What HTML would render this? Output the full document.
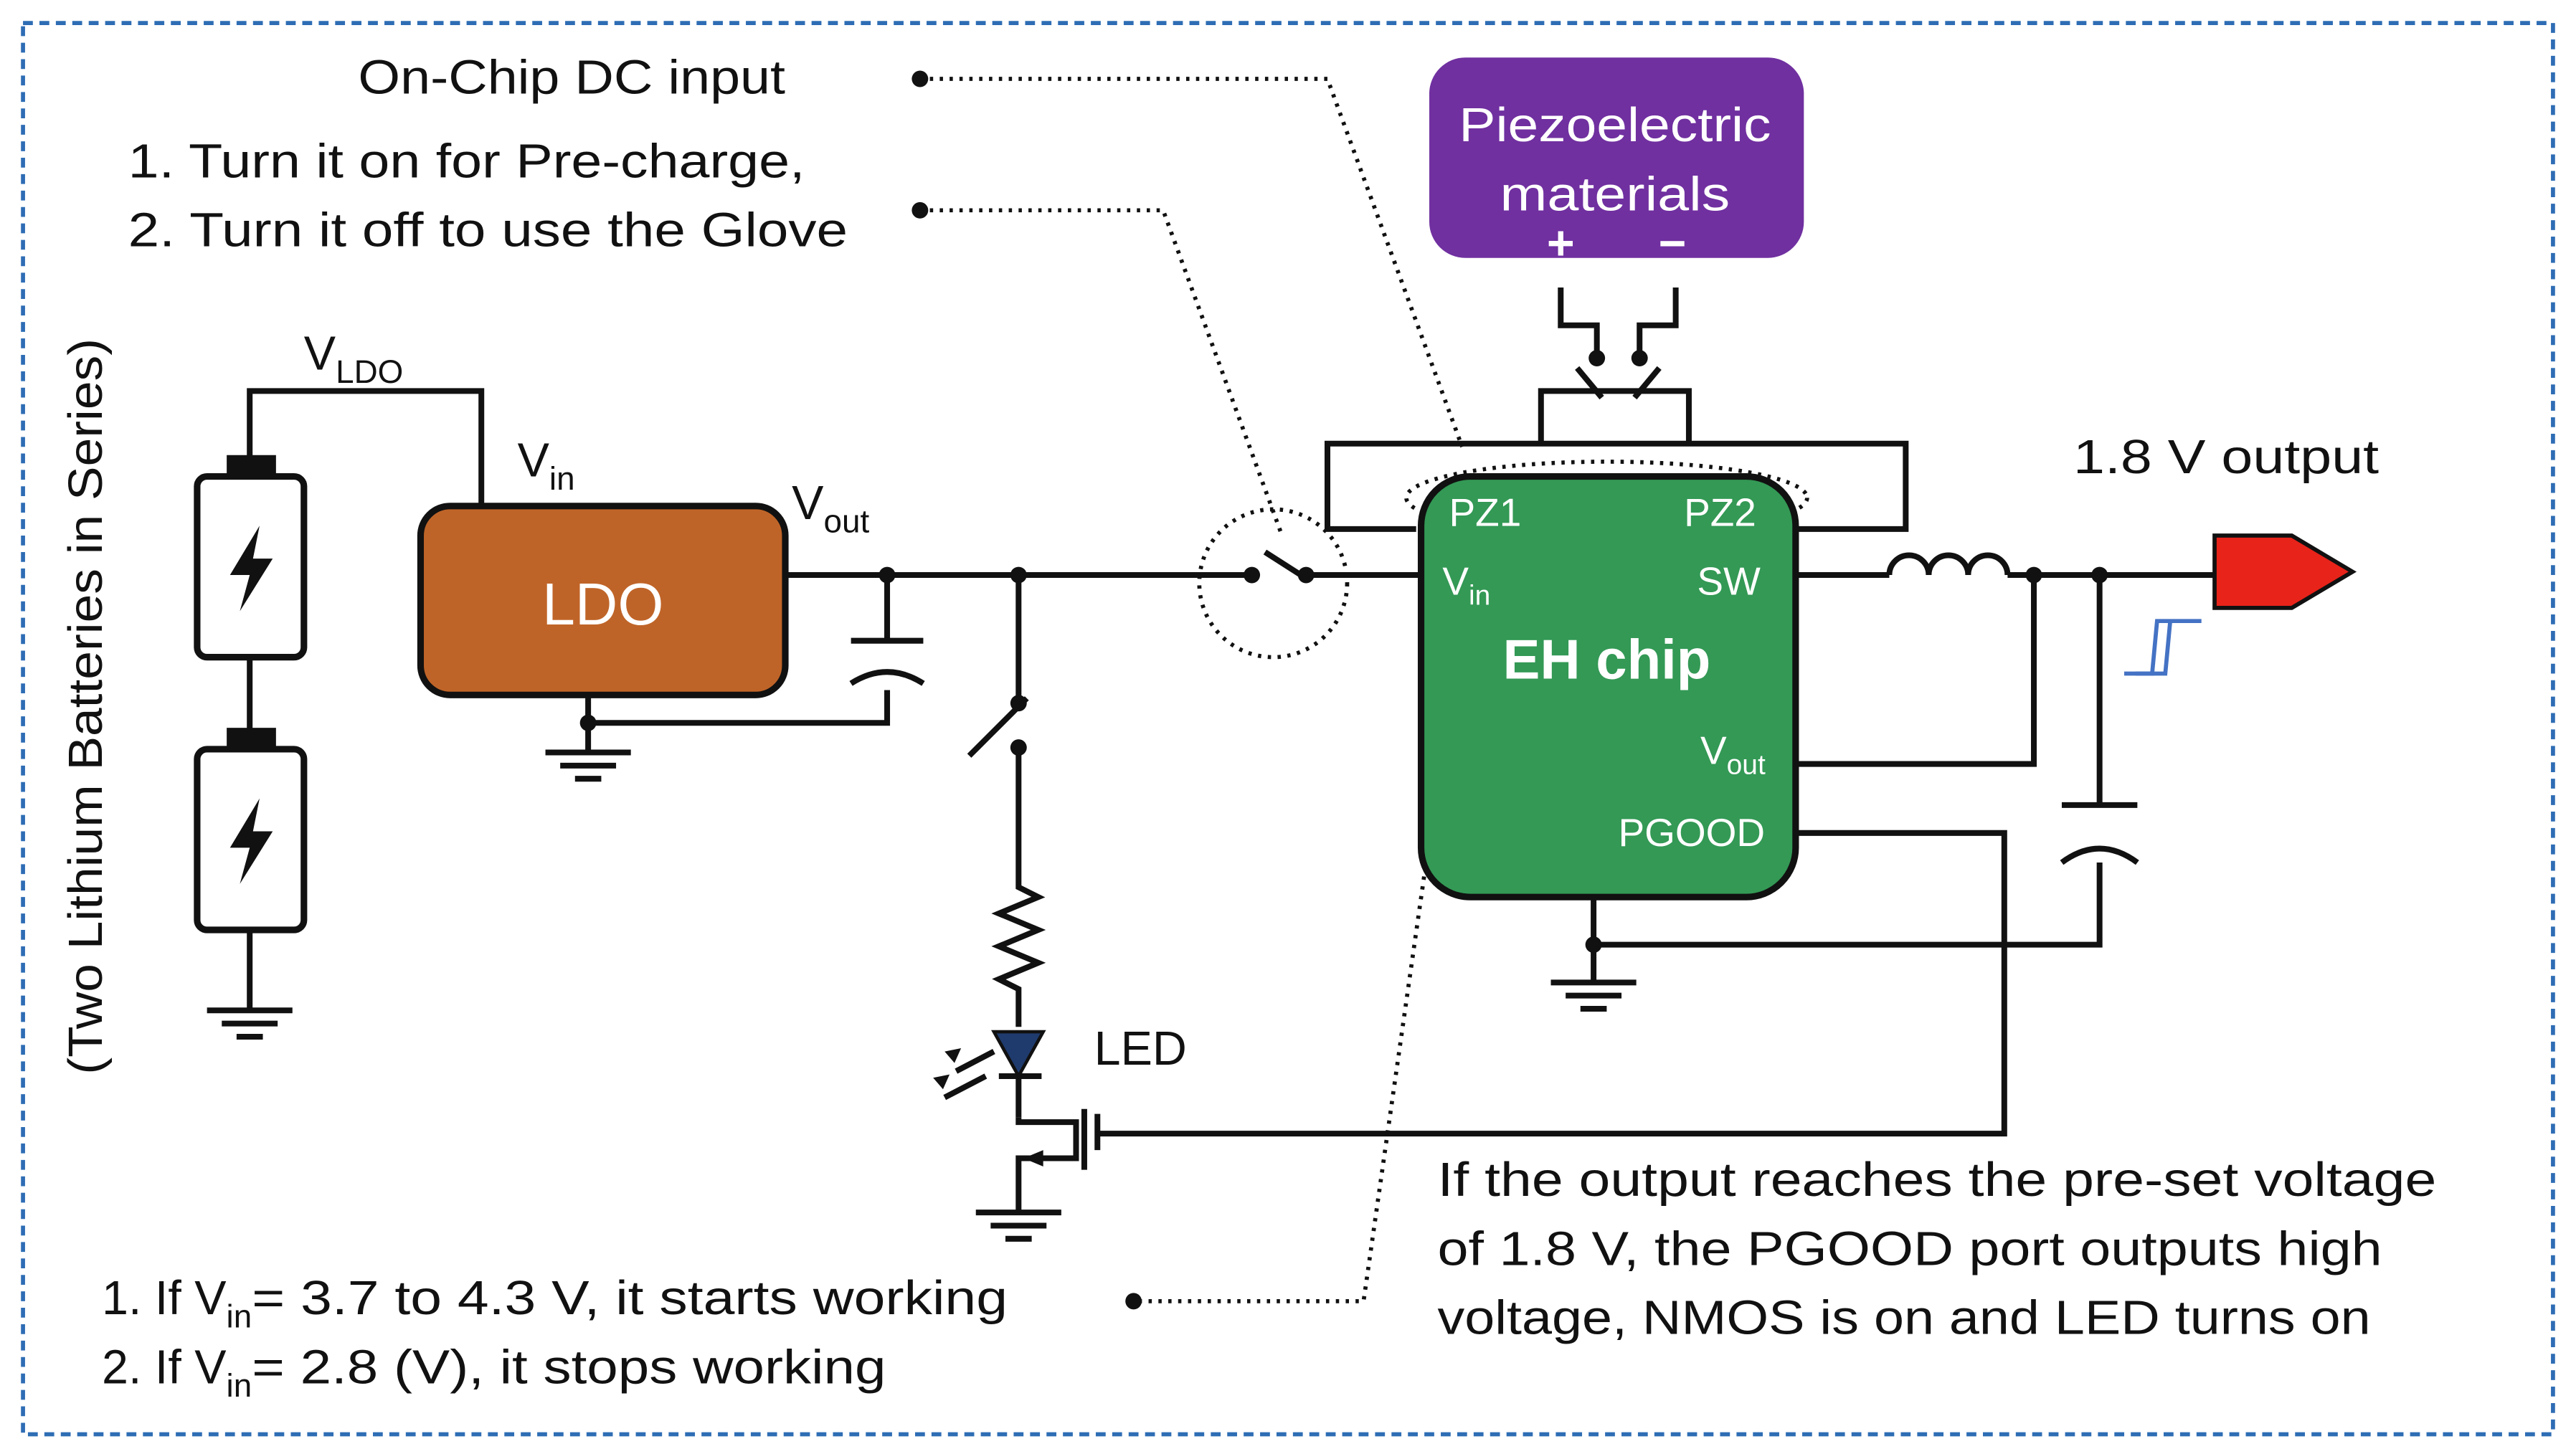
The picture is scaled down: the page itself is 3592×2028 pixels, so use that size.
<!DOCTYPE html>
<html><head><meta charset="utf-8"><style>
html,body{margin:0;padding:0;background:#fff}
svg{display:block}
text{font-family:"Liberation Sans",sans-serif;fill:#111}
</style></head><body>
<svg width="3592" height="2028" viewBox="0 0 1568 885" preserveAspectRatio="none" xmlns="http://www.w3.org/2000/svg">
<rect x="0" y="0" width="1568" height="885" fill="#fff"/>
<rect x="14" y="14" width="1540" height="859" fill="none" stroke="#2e6db4" stroke-width="2.5" stroke-dasharray="6,4"/>

<g font-size="29">
<text x="218" y="57" textLength="260" lengthAdjust="spacingAndGlyphs">On-Chip DC input</text>
<text x="78" y="108" textLength="412" lengthAdjust="spacingAndGlyphs">1. Turn it on for Pre-charge,</text>
<text x="78" y="150" textLength="438" lengthAdjust="spacingAndGlyphs">2. Turn it off to use the Glove</text>
<text x="1262" y="288" textLength="186" lengthAdjust="spacingAndGlyphs">1.8 V output</text>
<text x="62" y="800">1. If V<tspan font-size="20" dy="8">in</tspan><tspan dy="-8" textLength="460" lengthAdjust="spacingAndGlyphs">= 3.7 to 4.3 V, it starts working</tspan></text>
<text x="62" y="842">2. If V<tspan font-size="20" dy="8">in</tspan><tspan dy="-8" textLength="386" lengthAdjust="spacingAndGlyphs">= 2.8 (V), it stops working</tspan></text>
<text x="875" y="728" textLength="608" lengthAdjust="spacingAndGlyphs">If the output reaches the pre-set voltage</text>
<text x="875" y="770" textLength="575" lengthAdjust="spacingAndGlyphs">of 1.8 V, the PGOOD port outputs high</text>
<text x="875" y="812" textLength="568" lengthAdjust="spacingAndGlyphs">voltage, NMOS is on and LED turns on</text>
<text x="185" y="225">V<tspan font-size="20" dy="8">LDO</tspan></text>
<text x="315" y="290">V<tspan font-size="20" dy="8">in</tspan></text>
<text x="482" y="316">V<tspan font-size="20" dy="8">out</tspan></text>
<text x="666" y="648">LED</text>
<text transform="translate(62,430) rotate(-90)" x="-224" y="0" textLength="448" lengthAdjust="spacingAndGlyphs">(Two Lithium Batteries in Series)</text>
</g>

<!-- dotted leaders -->
<g fill="none" stroke="#111" stroke-width="2.5" stroke-dasharray="2,4">
<polyline points="560,48 808,48 890,272"/>
<polyline points="560,128 708,128 780,325"/>
<polyline points="888,385 830,792 690,792"/>
<circle cx="775" cy="355" r="45"/>
<ellipse cx="978" cy="303" rx="122" ry="22"/>
</g>
<g fill="#111">
<circle cx="560" cy="48" r="5"/><circle cx="560" cy="128" r="5"/>
<circle cx="888" cy="385" r="5"/><circle cx="690" cy="792" r="5"/>
</g>

<!-- piezo -->
<rect x="870" y="35" width="228" height="122" rx="22" fill="#7030a0"/>
<g font-size="29" text-anchor="middle">
<text x="983" y="86" style="fill:#fff" textLength="190" lengthAdjust="spacingAndGlyphs">Piezoelectric</text>
<text x="983" y="128" style="fill:#fff" textLength="140" lengthAdjust="spacingAndGlyphs">materials</text>
<text x="950" y="158" style="fill:#fff;font-weight:bold">+</text>
<text x="1018" y="158" style="fill:#fff;font-weight:bold">−</text>
</g>

<g fill="none" stroke="#111" stroke-width="3.5">
<polyline points="950,175 950,198 972,198 972,218"/>
<polyline points="1020,175 1020,198 998,198 998,218"/>
<line x1="960" y1="224" x2="975" y2="242"/><line x1="1010" y1="224" x2="995" y2="242"/>
<polyline points="938,270 938,238 1028,238 1028,270"/>
<polyline points="862,322 808,322 808,270 1160,270 1160,322 1092,322"/>
<polyline points="152,278 152,238 293,238 293,308"/>
<line x1="152" y1="400" x2="152" y2="445"/>
<line x1="152" y1="565" x2="152" y2="615"/>
<line x1="358" y1="423" x2="358" y2="458"/>
<polyline points="358,440 540,440 540,420"/>
<line x1="478" y1="350" x2="762" y2="350"/>
<line x1="795" y1="350" x2="865" y2="350"/>
<line x1="770" y1="336" x2="795" y2="352"/>
<line x1="540" y1="350" x2="540" y2="390"/>
<line x1="518" y1="390" x2="562" y2="390"/>
<path d="M518,416 Q540,402 562,416"/>
<line x1="620" y1="350" x2="620" y2="428"/>
<line x1="590" y1="460" x2="625" y2="425"/>
<polyline points="620,455 620,540 632,546 608,556 632,566 608,576 632,586 608,596 620,602 620,625"/>
<line x1="620" y1="655" x2="620" y2="680"/>
<line x1="608" y1="655" x2="634" y2="655"/>
<polyline points="620,680 620,683 655,683 655,705 620,705 620,738"/>
<line x1="660" y1="675" x2="660" y2="712"/>
<line x1="668" y1="678" x2="668" y2="700"/>
<polyline points="668,690 1220,690 1220,507 1093,507"/>
<line x1="605" y1="640" x2="582" y2="652"/><line x1="600" y1="655" x2="575" y2="668"/>
<line x1="970" y1="546" x2="970" y2="598"/>
<polyline points="970,575 1278,575 1278,525"/>
<line x1="1093" y1="350" x2="1150" y2="350"/>
<path d="M1150,350 a12,12 0 0 1 24,0 a12,12 0 0 1 24,0 a12,12 0 0 1 24,0"/>
<line x1="1222" y1="350" x2="1350" y2="350"/>
<polyline points="1093,465 1238,465 1238,350"/>
<line x1="1278" y1="350" x2="1278" y2="490"/>
<line x1="1255" y1="490" x2="1301" y2="490"/>
<path d="M1255,525 Q1278,508 1301,525"/>
</g>
<path d="M605,628 L635,628 L620,655 Z" fill="#1f3b6e" stroke="#111" stroke-width="2"/>
<path d="M575,640 l10,-2 -4,9z M568,656 l10,-2 -4,9z" fill="#111"/>
<path d="M635,700 l-12,5 12,5z" fill="#111"/>
<g fill="#111">
<circle cx="972" cy="218" r="5"/><circle cx="998" cy="218" r="5"/>
<circle cx="358" cy="440" r="5"/><circle cx="540" cy="350" r="5"/><circle cx="620" cy="350" r="5"/>
<circle cx="620" cy="428" r="5"/><circle cx="620" cy="455" r="5"/>
<circle cx="762" cy="350" r="5"/><circle cx="795" cy="350" r="5"/>
<circle cx="970" cy="575" r="5"/><circle cx="1238" cy="350" r="5"/><circle cx="1278" cy="350" r="5"/>
</g>

<g stroke="#111" stroke-width="3.5">
<g transform="translate(152,615)"><line x1="-26" y1="0" x2="26" y2="0"/><line x1="-17" y1="8" x2="17" y2="8"/><line x1="-8" y1="16" x2="8" y2="16"/></g>
<g transform="translate(358,458)"><line x1="-26" y1="0" x2="26" y2="0"/><line x1="-17" y1="8" x2="17" y2="8"/><line x1="-8" y1="16" x2="8" y2="16"/></g>
<g transform="translate(620,738)"><line x1="-26" y1="0" x2="26" y2="0"/><line x1="-17" y1="8" x2="17" y2="8"/><line x1="-8" y1="16" x2="8" y2="16"/></g>
<g transform="translate(970,598)"><line x1="-26" y1="0" x2="26" y2="0"/><line x1="-17" y1="8" x2="17" y2="8"/><line x1="-8" y1="16" x2="8" y2="16"/></g>
</g>

<rect x="138" y="277" width="30" height="13" fill="#111"/>
<rect x="120" y="290" width="65" height="110" rx="6" fill="#fff" stroke="#111" stroke-width="4"/>
<rect x="138" y="443" width="30" height="13" fill="#111"/>
<rect x="120" y="456" width="65" height="110" rx="6" fill="#fff" stroke="#111" stroke-width="4"/>
<path d="M158,320 L140,350 L152,350 L146,372 L166,340 L154,340 Z" fill="#111"/>
<path d="M158,486 L140,516 L152,516 L146,538 L166,506 L154,506 Z" fill="#111"/>

<rect x="256" y="308" width="222" height="115" rx="18" fill="#bf6428" stroke="#111" stroke-width="4"/>
<text x="367" y="380" font-size="36" text-anchor="middle" style="fill:#fff">LDO</text>

<rect x="865" y="290" width="228" height="256" rx="30" fill="#339955" stroke="#111" stroke-width="4"/>
<g font-size="24">
<text x="882" y="320" style="fill:#fff">PZ1</text>
<text x="1025" y="320" style="fill:#fff">PZ2</text>
<text x="878" y="362" style="fill:#fff">V<tspan font-size="17" dy="6">in</tspan></text>
<text x="1033" y="362" style="fill:#fff">SW</text>
<text x="1035" y="465" style="fill:#fff">V<tspan font-size="17" dy="6">out</tspan></text>
<text x="985" y="515" style="fill:#fff">PGOOD</text>
</g>
<text x="978" y="413" font-size="34" font-weight="bold" text-anchor="middle" style="fill:#fff">EH chip</text>

<polygon points="1348,326 1395,326 1432,348 1395,370 1348,370" fill="#e8231a" stroke="#111" stroke-width="2.5"/>
<polyline points="1293,410 1310,410 1313,378 1340,378" fill="none" stroke="#4472c4" stroke-width="2.5"/>
<polyline points="1300,410 1318,410 1321,378" fill="none" stroke="#4472c4" stroke-width="2.5"/>
</svg>
</body></html>
